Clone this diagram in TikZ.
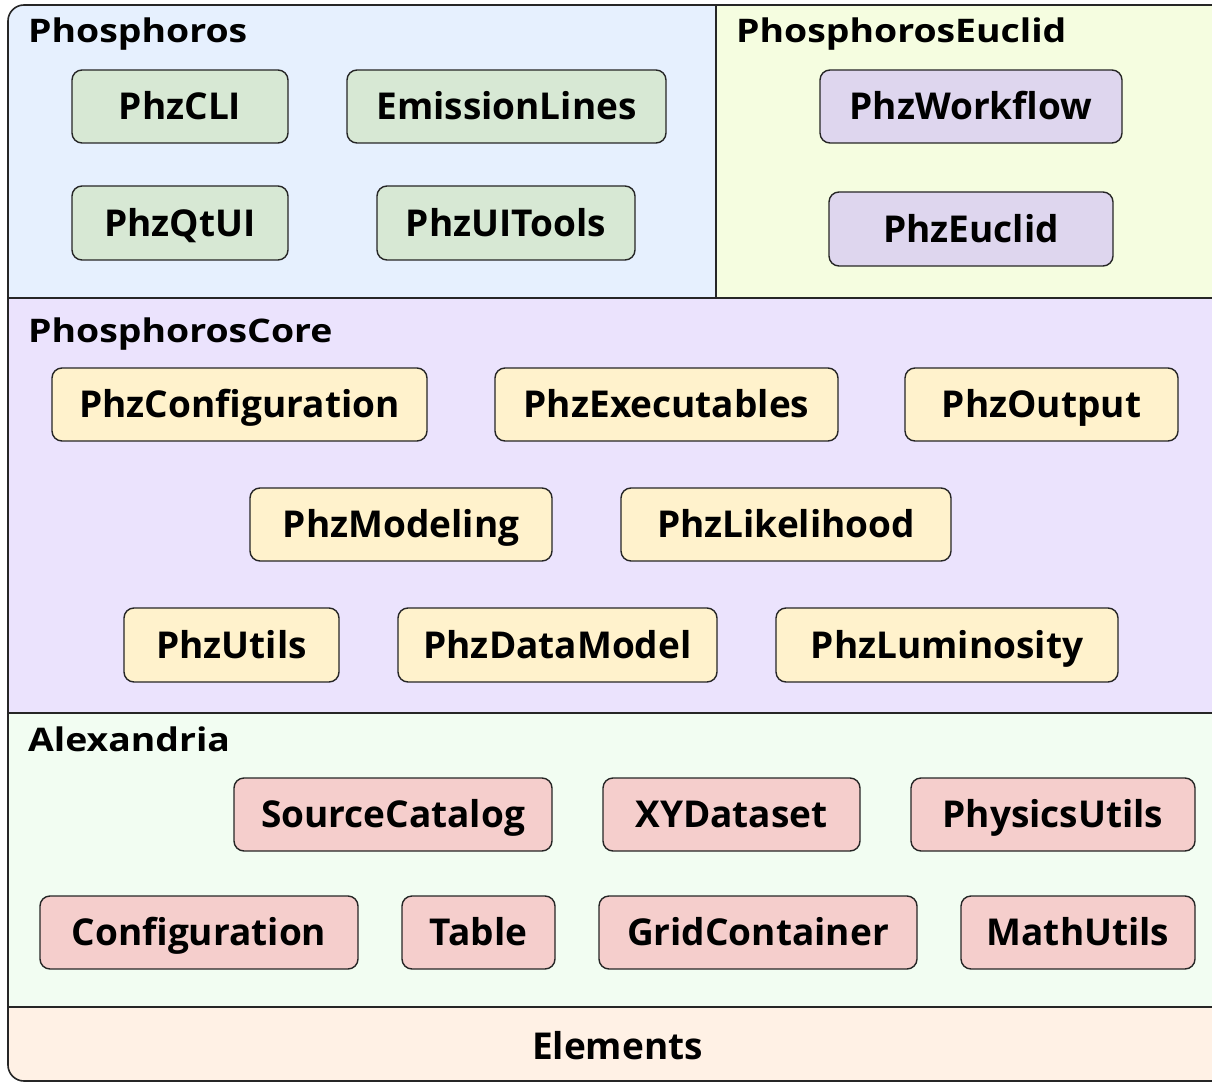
\documentclass[tikz,border=0pt]{standalone}
\usepackage{fontspec}
\setmainfont{Open Sans}
\begin{document}
\begin{tikzpicture}[x=1pt,y=-1pt,
  mod/.style={draw=black!85, line width=1.4pt, rounded corners=10pt, inner sep=0pt,
    font=\fontsize{37}{42}\selectfont\bfseries, text height=26.4pt, text depth=0pt},
  grn/.style={mod, fill=phgreen},
  pur/.style={mod, fill=phpurple},
  yel/.style={mod, fill=phyellow},
  red/.style={mod, fill=phred},
  hdr/.style={anchor=base west, inner sep=0pt, font=\fontsize{32.5}{36}\selectfont\bfseries},
  sep/.style={draw=black!85, line width=1.6pt}
]
\definecolor{bgblue}{HTML}{E6F0FE}
\definecolor{bgeuc}{HTML}{F5FDE0}
\definecolor{bgcore}{HTML}{EBE3FD}
\definecolor{bgalex}{HTML}{F2FDF2}
\definecolor{bgelem}{HTML}{FFF1E5}
\definecolor{phgreen}{HTML}{D7E8D4}
\definecolor{phpurple}{HTML}{DED6EE}
\definecolor{phyellow}{HTML}{FFF2CC}
\definecolor{phred}{HTML}{F5CECC}
\useasboundingbox (0,0) rectangle (1212,1083);
\clip (0,0) rectangle (1212,1083);
% region fills
\begin{scope}
\clip[rounded corners=16pt] (8,5) rectangle (1240,1081);
\fill[bgblue] (8,5) rectangle (716,298);
\fill[bgeuc] (716,5) rectangle (1240,298);
\fill[bgcore] (8,298) rectangle (1240,713);
\fill[bgalex] (8,713) rectangle (1240,1007);
\fill[bgelem] (8,1007) rectangle (1240,1081);
\end{scope}
\draw[sep, rounded corners=16pt] (8,5) rectangle (1240,1081);
\draw[sep] (8,298) -- (1240,298);
\draw[sep] (716,5) -- (716,298);
\draw[sep] (8,713) -- (1240,713);
\draw[sep] (8,1007) -- (1240,1007);
% headers
\node[hdr] (hPhos) at (28,43) {\scalebox{1.15}[1]{Phosphoros}};
\node[hdr] (hEuc) at (736,43) {\scalebox{1.15}[1]{PhosphorosEuclid}};
\node[hdr] (hCore) at (28,342) {\scalebox{1.15}[1]{PhosphorosCore}};
\node[hdr] (hAlex) at (28,751) {\scalebox{1.15}[1]{Alexandria}};
\node[anchor=base, inner sep=0pt, font=\fontsize{37}{42}\selectfont\bfseries] (elem) at (617.5,1059) {Elements};
% Phosphoros
\node[grn, minimum width=216pt, minimum height=73pt] (cli) at (180,106.5) {PhzCLI};
\node[grn, minimum width=319pt, minimum height=73pt] (eml) at (506.5,106.5) {EmissionLines};
\node[grn, minimum width=216pt, minimum height=74pt] (qtui) at (180,223) {PhzQtUI};
\node[grn, minimum width=258pt, minimum height=74pt] (uit) at (506,223) {PhzUITools};
% Euclid
\node[pur, minimum width=302pt, minimum height=73pt] (wf) at (971,106.5) {PhzWorkflow};
\node[pur, minimum width=284pt, minimum height=74pt] (euc) at (971,229) {PhzEuclid};
% Core
\node[yel, minimum width=375pt, minimum height=73pt] (conf) at (239.5,404.5) {PhzConfiguration};
\node[yel, minimum width=343pt, minimum height=73pt] (exe) at (666.5,404.5) {PhzExecutables};
\node[yel, minimum width=273pt, minimum height=73pt] (out) at (1041.5,404.5) {PhzOutput};
\node[yel, minimum width=302pt, minimum height=73pt] (mod) at (401,524.5) {PhzModeling};
\node[yel, minimum width=330pt, minimum height=73pt] (lik) at (786,524.5) {PhzLikelihood};
\node[yel, minimum width=215pt, minimum height=74pt] (utl) at (231.5,645) {PhzUtils};
\node[yel, minimum width=319pt, minimum height=74pt] (dm) at (557.5,645) {PhzDataModel};
\node[yel, minimum width=342pt, minimum height=74pt] (lum) at (947,645) {PhzLuminosity};
% Alexandria
\node[red, minimum width=318pt, minimum height=73pt] (sc) at (393,814.5) {SourceCatalog};
\node[red, minimum width=257pt, minimum height=73pt] (xy) at (731.5,814.5) {XYDataset};
\node[red, minimum width=284pt, minimum height=73pt] (phu) at (1053,814.5) {PhysicsUtils};
\node[red, minimum width=318pt, minimum height=73pt] (cfg) at (199,932.5) {Configuration};
\node[red, minimum width=153pt, minimum height=73pt] (tab) at (478.5,932.5) {Table};
\node[red, minimum width=318pt, minimum height=73pt] (grid) at (758,932.5) {GridContainer};
\node[red, minimum width=234pt, minimum height=73pt] (mu) at (1078,932.5) {MathUtils};
\end{tikzpicture}
\end{document}
